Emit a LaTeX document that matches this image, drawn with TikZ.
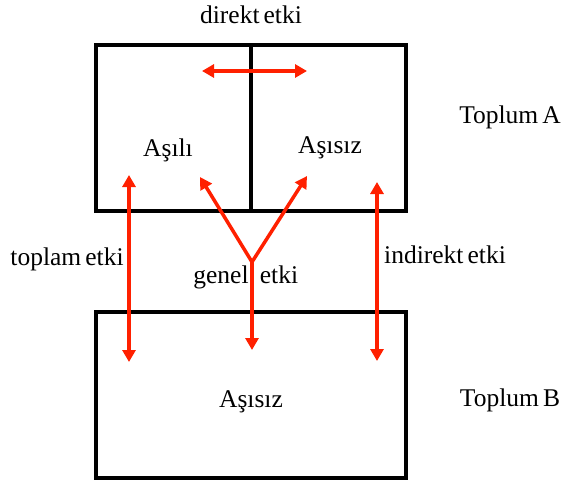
\documentclass[tikz,border=0pt]{standalone}
\usepackage{fontspec}
\setmainfont{Liberation Serif}
\usetikzlibrary{arrows.meta}
\definecolor{arrred}{RGB}{255,32,0}
\newcommand{\mylblfont}{\fontsize{25.5}{29}\selectfont\spaceskip=0.16em plus 0.05em\relax}
\begin{document}
\begin{tikzpicture}[x=1pt,y=-1pt,
  boxline/.style={draw=black,line width=4pt},
  box/.style={boxline,rectangle,inner sep=0pt},
  lbl/.style={font=\mylblfont,anchor=base,inner sep=0pt},
  tipT/.tip={Triangle[width=13pt,length=12pt]},
  arr/.style={draw=arrred,line width=3.5pt,-tipT},
  darr/.style={draw=arrred,line width=3.5pt,tipT-tipT}]
\useasboundingbox (0,0) rectangle (563,482);
% boxes
\node[box,minimum width=310pt,minimum height=166pt] (topbox) at (251,128) {};
\node[box,minimum width=310pt,minimum height=166pt] (botbox) at (251,395) {};
\draw[boxline] (topbox.north) -- (topbox.south);
% labels
\node[lbl] (direkt) at (251,23) {direkt etki};
\node[lbl] (asili) at (168,156) {Aşılı};
\node[lbl] (asisizA) at (330,153) {Aşısız};
\node[lbl] (asisizB) at (251,407) {Aşısız};
\node[lbl] (toplumA) at (510,123) {Toplum A};
\node[lbl] (toplumB) at (510,406) {Toplum B};
\node[lbl] (toplam) at (67,265) {toplam etki};
\node[lbl] (indirekt) at (445,263) {indirekt etki};
\node[lbl] (genel) at (221,283) {genel};
\node[lbl] (etki) at (279,283) {etki};
% arrow end points
\coordinate (hL) at (202,71);
\coordinate (hR) at (307,71);
\coordinate (lT) at (129,175);
\coordinate (lB) at (129,362);
\coordinate (rT) at (377,182);
\coordinate (rB) at (377,361);
\coordinate (J) at (252,262);
\coordinate (yL) at (200,177);
\coordinate (yR) at (307,176);
\coordinate (mB) at (252,350);
% arrows
\draw[darr] (hL) -- (hR);
\draw[darr] (lT) -- (lB);
\draw[darr] (rT) -- (rB);
\draw[darr] (yL) -- (J) -- (yR);
\draw[arr] (J) -- (mB);
\end{tikzpicture}
\end{document}
